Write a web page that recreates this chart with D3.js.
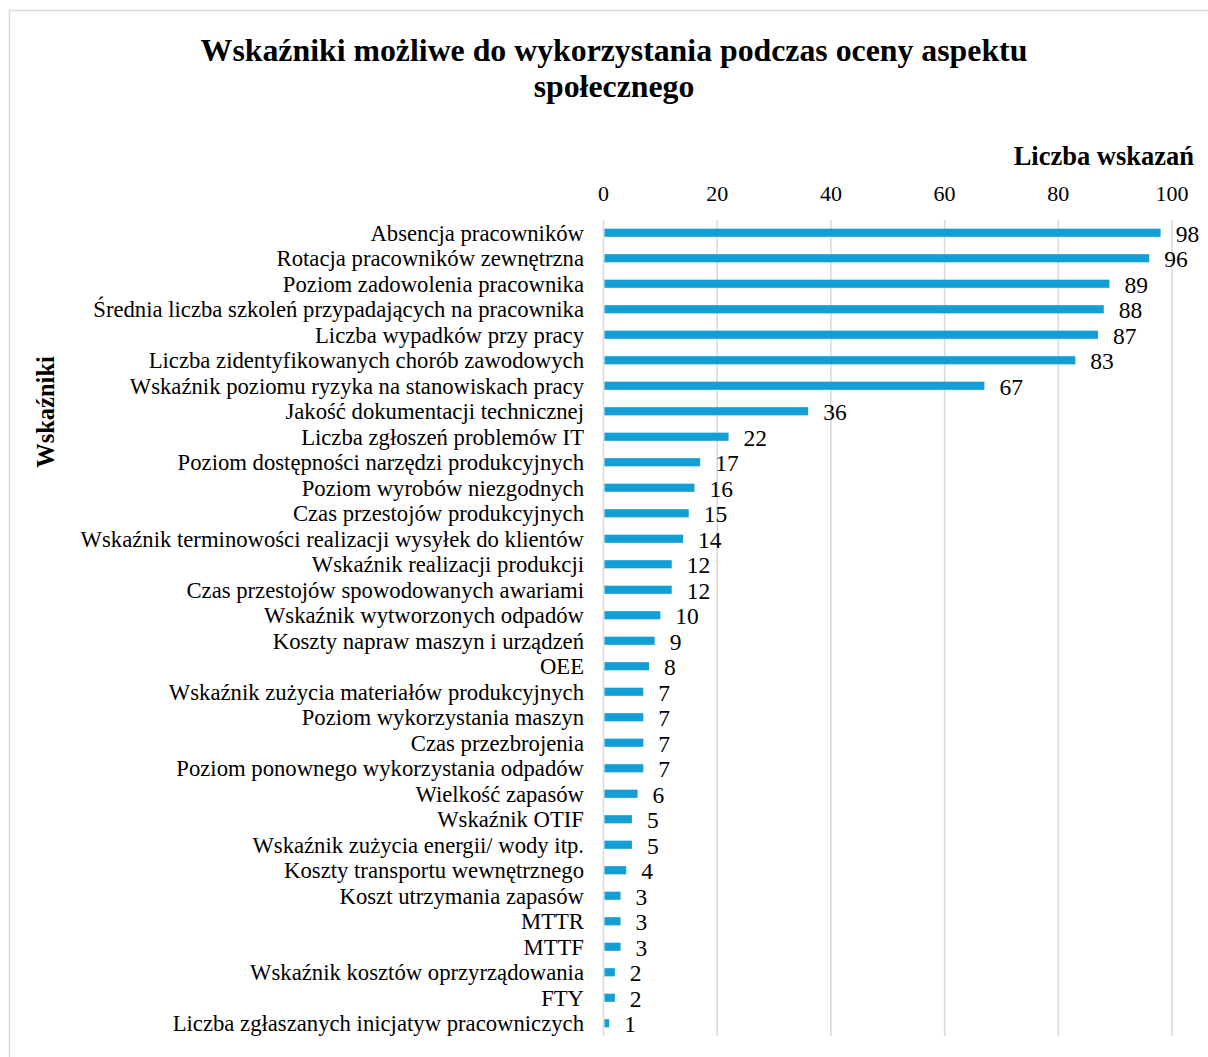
<!DOCTYPE html>
<html>
<head>
<meta charset="utf-8">
<script src="https://cdn.jsdelivr.net/npm/d3@7"></script>
<style>
  html, body { margin: 0; padding: 0; background: #fff; }
  svg { display: block; }
  text { font-family: "Liberation Serif", "Times New Roman", serif; fill: #000; }
</style>
</head>
<body>
<svg id="chart" width="1208" height="1057"></svg>
<script>
// Indicators and number of responses
const categories = [
  "Absencja pracowników",
  "Rotacja pracowników zewnętrzna",
  "Poziom zadowolenia pracownika",
  "Średnia liczba szkoleń przypadających na pracownika",
  "Liczba wypadków przy pracy",
  "Liczba zidentyfikowanych chorób zawodowych",
  "Wskaźnik poziomu ryzyka na stanowiskach pracy",
  "Jakość dokumentacji technicznej",
  "Liczba zgłoszeń problemów IT",
  "Poziom dostępności narzędzi produkcyjnych",
  "Poziom wyrobów niezgodnych",
  "Czas przestojów produkcyjnych",
  "Wskaźnik terminowości realizacji wysyłek do klientów",
  "Wskaźnik realizacji produkcji",
  "Czas przestojów spowodowanych awariami",
  "Wskaźnik wytworzonych odpadów",
  "Koszty napraw maszyn i urządzeń",
  "OEE",
  "Wskaźnik zużycia materiałów produkcyjnych",
  "Poziom wykorzystania maszyn",
  "Czas przezbrojenia",
  "Poziom ponownego wykorzystania odpadów",
  "Wielkość zapasów",
  "Wskaźnik OTIF",
  "Wskaźnik zużycia energii/ wody itp.",
  "Koszty transportu wewnętrznego",
  "Koszt utrzymania zapasów",
  "MTTR",
  "MTTF",
  "Wskaźnik kosztów oprzyrządowania",
  "FTY",
  "Liczba zgłaszanych inicjatyw pracowniczych"
];
const values = [98, 96, 89, 88, 87, 83, 67, 36, 22, 17, 16, 15, 14, 12, 12, 10, 9, 8, 7, 7, 7, 7, 6, 5, 5, 4, 3, 3, 3, 2, 2, 1];
const tickValues = [0, 20, 40, 60, 80, 100];
const titleLines = ["Wskaźniki możliwe do wykorzystania podczas oceny aspektu", "społecznego"];
const xTitle = "Liczba wskazań";
const yTitle = "Wskaźniki";

const data = categories.map((c, i) => ({ name: c, value: values[i] }));

const svg = d3.select("#chart");
const plot = { left: 603.5, right: 1172, top: 220, bottom: 1036 };

// outer frame
svg.append("rect")
  .attr("x", 9.5).attr("y", 10.5)
  .attr("width", 1215).attr("height", 1060)
  .attr("fill", "none").attr("stroke", "#d9d9d9").attr("stroke-width", 1.5);

const x = d3.scaleLinear().domain([0, 100]).range([plot.left, plot.right]);
const y = d3.scaleBand().domain(categories).range([plot.top, plot.bottom])
  .paddingInner(0.68).paddingOuter(0.34);

// vertical gridlines
svg.append("g").selectAll("line").data(tickValues).join("line")
  .attr("x1", d => x(d)).attr("x2", d => x(d))
  .attr("y1", plot.top).attr("y2", plot.bottom)
  .attr("stroke", "#d9d9d9").attr("stroke-width", 1.5);

// top axis tick labels
svg.append("g").selectAll("text").data(tickValues).join("text")
  .attr("x", d => x(d)).attr("y", 201)
  .attr("text-anchor", "middle")
  .attr("font-size", 22)
  .text(d => d);

// bars
svg.append("g").selectAll("rect").data(data).join("rect")
  .attr("x", x(0) + 1)
  .attr("y", d => y(d.name))
  .attr("width", d => x(d.value) - x(0) - 1)
  .attr("height", y.bandwidth())
  .attr("fill", "#139fd6");

// value labels
svg.append("g").selectAll("text").data(data).join("text")
  .attr("x", d => x(d.value) + 15)
  .attr("y", d => y(d.name) + y.bandwidth() / 2 + 9)
  .attr("font-size", 23.5)
  .text(d => d.value);

// category labels
svg.append("g").selectAll("text").data(data).join("text")
  .attr("x", 584)
  .attr("y", d => y(d.name) + y.bandwidth() / 2 + 8)
  .attr("text-anchor", "end")
  .attr("font-size", 22.7)
  .text(d => d.name);

// chart title
svg.append("g").selectAll("text").data(titleLines).join("text")
  .attr("x", 614).attr("y", (d, i) => 61 + i * 36)
  .attr("text-anchor", "middle")
  .attr("font-size", 31.8).attr("font-weight", "bold")
  .text(d => d);

// axis titles
svg.append("text")
  .attr("x", 1194).attr("y", 165)
  .attr("text-anchor", "end")
  .attr("font-size", 26.5).attr("font-weight", "bold")
  .text(xTitle);

svg.append("text")
  .attr("transform", "translate(54,412) rotate(-90)")
  .attr("text-anchor", "middle")
  .attr("font-size", 24.5).attr("font-weight", "bold")
  .text(yTitle);
</script>
</body>
</html>
